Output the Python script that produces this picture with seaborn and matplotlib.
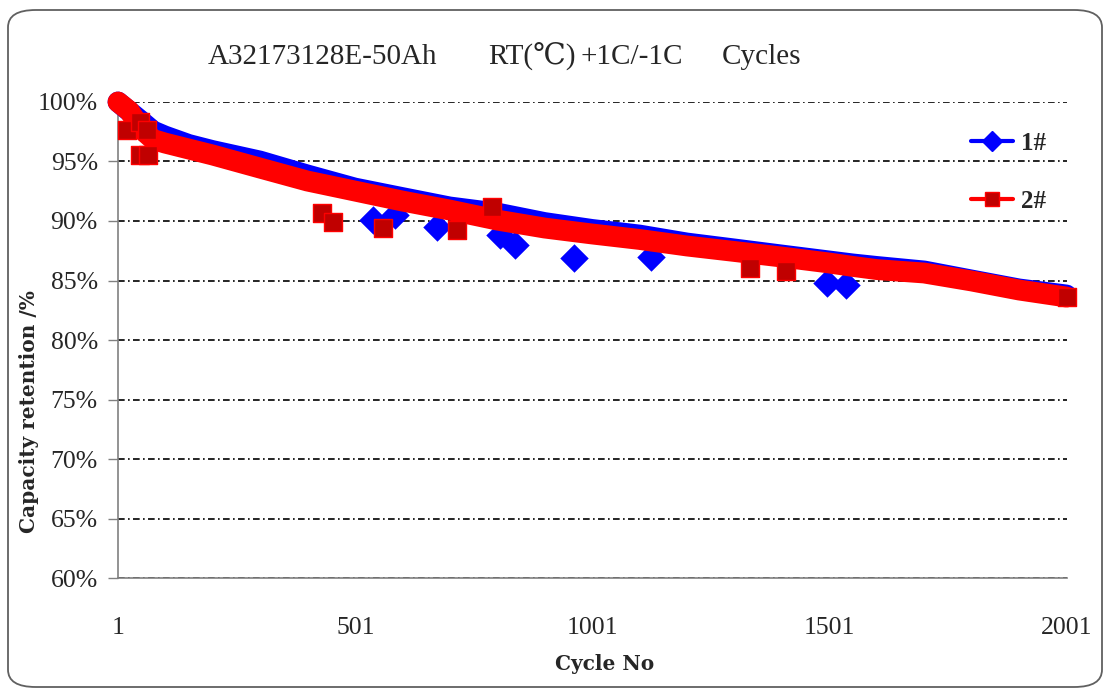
import matplotlib
matplotlib.use("Agg")
import matplotlib.pyplot as plt
from matplotlib.lines import Line2D
from matplotlib.patches import FancyBboxPatch
import numpy as np
import pandas as pd
import seaborn as sns

# trend of each cell (band centre)
cycles = [1, 25, 50, 75, 100, 150, 200, 300, 400, 500, 600, 700, 800, 900, 1000,
          1100, 1200, 1300, 1400, 1500, 1550, 1600, 1700, 1800, 1900, 2000]
cell1 = [100.0, 99.21, 98.40, 97.56, 97.14, 96.43, 95.92, 95.04, 93.87, 92.77, 91.97,
         91.18, 90.67, 89.87, 89.29, 88.82, 88.15, 87.65, 87.14, 86.64, 86.39, 86.18,
         85.80, 85.04, 84.29, 83.78]
cell2 = [100.0, 99.24, 97.73, 96.85, 96.55, 96.05, 95.55, 94.45, 93.36, 92.52, 91.68,
         90.92, 90.08, 89.41, 88.91, 88.45, 87.90, 87.44, 86.97, 86.47, 86.18, 85.92,
         85.63, 84.96, 84.20, 83.61]

# single low readings sticking out of the band
dip1_cycles = [538, 584, 673, 805, 837, 963, 1125, 1496, 1536]
dip1_values = [90.1, 90.5, 89.5, 88.8, 88.0, 86.9, 87.0, 84.8, 84.6]
dip2_cycles = [20, 47, 62, 47, 64, 430, 454, 559, 715, 790, 1332, 1409]
dip2_values = [97.65, 98.3, 97.65, 95.55, 95.55, 90.7, 89.9, 89.4, 89.25, 91.2, 86.05, 85.8]

yticks = [60, 65, 70, 75, 80, 85, 90, 95, 100]
xticks = [1, 501, 1001, 1501, 2001]

title_parts = ['A32173128E-50Ah', 'RT(℃)', '+1C/-1C', 'Cycles']

blue = '#0000FF'
red = '#FF0000'
dark_red = '#C00000'

sns.set_theme(style='white')
plt.rcParams['font.family'] = ['Liberation Serif', 'DejaVu Serif', 'Noto Sans CJK SC']

trend = pd.DataFrame({'cycle': cycles, 'c1': cell1, 'c2': cell2})
dips1 = pd.DataFrame({'cycle': dip1_cycles, 'v': dip1_values})
dips2 = pd.DataFrame({'cycle': dip2_cycles, 'v': dip2_values})

fig = plt.figure(figsize=(11.1, 6.91), dpi=100)
ax = fig.add_axes([0.1063, 0.1635, 0.8550, 0.6889])

band_lw = 15
sns.lineplot(data=trend, x='cycle', y='c1', ax=ax, color=blue, lw=band_lw,
             solid_joinstyle='round', zorder=3, clip_on=False)
sns.scatterplot(data=dips1, x='cycle', y='v', ax=ax, marker='D', s=210, color=blue,
                edgecolor=blue, linewidth=0, zorder=4, clip_on=False)
sns.lineplot(data=trend, x='cycle', y='c2', ax=ax, color=red, lw=band_lw,
             solid_joinstyle='round', zorder=5, clip_on=False)
sns.scatterplot(data=dips2, x='cycle', y='v', ax=ax, marker='s', s=180, color=dark_red,
                edgecolor=red, linewidth=1, zorder=6, clip_on=False)
ends = trend.iloc[[-1]]
sns.scatterplot(data=ends, x='cycle', y='c2', ax=ax, marker='s', s=180, color=dark_red,
                edgecolor=red, linewidth=1, zorder=7, clip_on=False)

ax.set_xlim(1, 2001)
ax.set_ylim(60, 100)
ax.set_xticks(xticks)
ax.set_xticklabels([str(t) for t in xticks])
ax.set_yticks(yticks)
ax.set_yticklabels([f'{t}%' for t in yticks])
ax.tick_params(axis='y', length=7, width=1, color='#808080', pad=7.5, labelsize=18.5, left=True)
ax.tick_params(axis='x', length=0, pad=28, labelsize=18.5)

ax.yaxis.grid(True, color='black', lw=1.2, ls=(0, (4, 2, 1, 2)))
ax.xaxis.grid(False)
for side in ['top', 'right']:
    ax.spines[side].set_visible(False)
for side in ['left', 'bottom']:
    ax.spines[side].set_color('#808080')
    ax.spines[side].set_linewidth(1.2)
    ax.spines[side].set_zorder(2)

ax.set_xlabel('Cycle No', family='DejaVu Serif', fontweight='bold', fontsize=14.5)
ax.xaxis.set_label_coords(0.5 + 12 / 949, -0.159)
ax.set_ylabel('Capacity retention /%', family='DejaVu Serif', fontweight='bold', fontsize=14.5)
ax.yaxis.set_label_coords(-0.083, 0.35)

# title pieces placed like the original's wide half-width font
title_x = [208, 488, 580, 722]
for part, px in zip(title_parts, title_x):
    fig.text(px / 1110, 1 - 57 / 691, part, fontsize=21, ha='left', va='center',
             family=['Liberation Serif', 'DejaVu Serif', 'Noto Sans CJK SC'])

handles = [
    Line2D([], [], color=blue, lw=3, marker='D', ms=10, mfc=blue, mec=blue),
    Line2D([], [], color=red, lw=3, marker='s', ms=10, mfc=dark_red, mec=red),
]
ax.legend(handles, ['1#', '2#'], loc='upper left', bbox_to_anchor=(0.875, 0.985),
          frameon=False, handlelength=1.7, handletextpad=0.3, labelspacing=1.4,
          prop={'family': 'Liberation Serif', 'weight': 'bold', 'size': 18})

border = FancyBboxPatch((8 / 1110, 4 / 691), 1094 / 1110, 677 / 691,
                        boxstyle='round,pad=0,rounding_size=0.025', transform=fig.transFigure,
                        fill=False, ec='#606060', lw=1.3)
fig.patches.append(border)

fig.savefig('out.png', dpi=100, facecolor='white')
